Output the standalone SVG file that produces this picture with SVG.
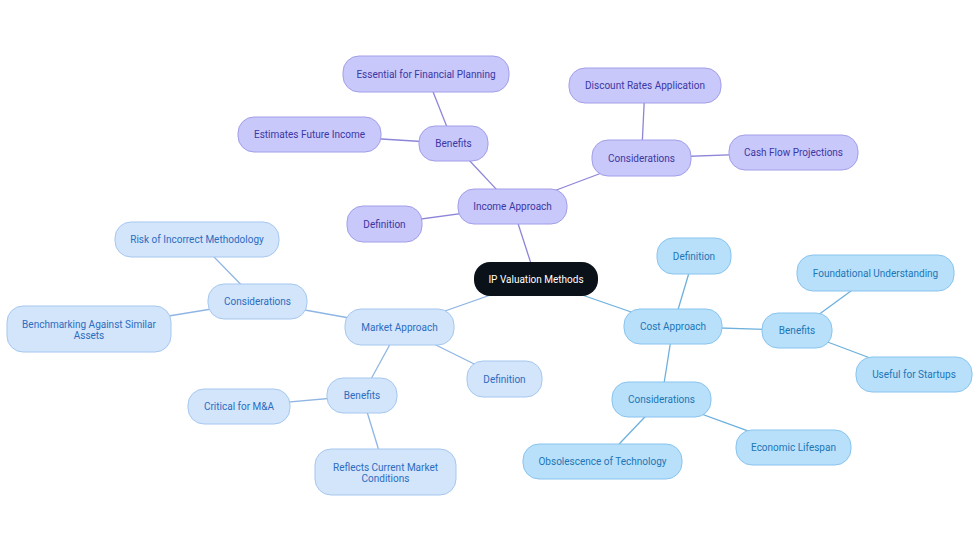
<svg xmlns="http://www.w3.org/2000/svg" width="980" height="553" viewBox="0 0 980 553">
<style>
text{font-family:Roboto,"Liberation Sans",sans-serif;font-size:10px;text-anchor:middle;dominant-baseline:central}
.inc rect{fill:#c9c8fb;stroke:#a29ee8;stroke-width:1}
.inc text{fill:#3b37a3}
.mkt rect{fill:#d2e5fb;stroke:#a6c7ef;stroke-width:1}
.mkt text{fill:#2d6cbf}
.cost rect{fill:#b9e0fb;stroke:#88c4ee;stroke-width:1}
.cost text{fill:#1b76b6}
.root rect{fill:#0b1119}
.root text{fill:#ffffff}
.ci{stroke:#8c85d8;stroke-width:1.3;fill:none}
.cm{stroke:#8fb5e4;stroke-width:1.3;fill:none}
.cc{stroke:#6db0dd;stroke-width:1.3;fill:none}
</style>
<rect width="980" height="553" fill="#ffffff"/>
<g id="connectors">
<line class="ci" x1="536" y1="279" x2="512.5" y2="206.5"/>
<line class="ci" x1="512.5" y1="206.5" x2="384.5" y2="224"/>
<line class="ci" x1="512.5" y1="206.5" x2="453.5" y2="143.5"/>
<line class="ci" x1="453.5" y1="143.5" x2="309.5" y2="134.5"/>
<line class="ci" x1="453.5" y1="143.5" x2="426" y2="74"/>
<line class="ci" x1="512.5" y1="206.5" x2="641.5" y2="158"/>
<line class="ci" x1="641.5" y1="158" x2="645" y2="85.5"/>
<line class="ci" x1="641.5" y1="158" x2="793.5" y2="152.5"/>
<line class="cm" x1="536" y1="279" x2="399.5" y2="327"/>
<line class="cm" x1="399.5" y1="327" x2="504.5" y2="379"/>
<line class="cm" x1="399.5" y1="327" x2="257.5" y2="301.5"/>
<line class="cm" x1="257.5" y1="301.5" x2="197" y2="239.5"/>
<line class="cm" x1="257.5" y1="301.5" x2="89" y2="329"/>
<line class="cm" x1="399.5" y1="327" x2="362" y2="395.5"/>
<line class="cm" x1="362" y1="395.5" x2="239" y2="406.5"/>
<line class="cm" x1="362" y1="395.5" x2="385.5" y2="472"/>
<line class="cc" x1="536" y1="279" x2="673" y2="326.5"/>
<line class="cc" x1="673" y1="326.5" x2="694" y2="256"/>
<line class="cc" x1="673" y1="326.5" x2="797" y2="330.5"/>
<line class="cc" x1="797" y1="330.5" x2="875.5" y2="273"/>
<line class="cc" x1="797" y1="330.5" x2="914" y2="374.5"/>
<line class="cc" x1="673" y1="326.5" x2="661.5" y2="399.5"/>
<line class="cc" x1="661.5" y1="399.5" x2="793.5" y2="447.5"/>
<line class="cc" x1="661.5" y1="399.5" x2="602.5" y2="461.5"/>
</g>
<g id="root" class="root"><rect x="474" y="262" width="124" height="34" rx="16"/><text x="536" y="279">IP Valuation Methods</text></g>
<g id="income" class="inc"><rect x="458" y="189" width="109" height="35" rx="16"/><text x="512.5" y="206.5">Income Approach</text></g>
<g id="income-definition" class="inc"><rect x="347" y="206" width="75" height="36" rx="16"/><text x="384.5" y="224">Definition</text></g>
<g id="income-benefits" class="inc"><rect x="419" y="126" width="69" height="35" rx="16"/><text x="453.5" y="143.5">Benefits</text></g>
<g id="income-estimates" class="inc"><rect x="238" y="117" width="143" height="35" rx="16"/><text x="309.5" y="134.5">Estimates Future Income</text></g>
<g id="income-essential" class="inc"><rect x="343" y="56" width="166" height="36" rx="16"/><text x="426" y="74">Essential for Financial Planning</text></g>
<g id="income-considerations" class="inc"><rect x="592" y="140" width="99" height="36" rx="16"/><text x="641.5" y="158">Considerations</text></g>
<g id="income-discount" class="inc"><rect x="569" y="68" width="152" height="35" rx="16"/><text x="645" y="85.5">Discount Rates Application</text></g>
<g id="income-cashflow" class="inc"><rect x="729" y="135" width="129" height="35" rx="16"/><text x="793.5" y="152.5">Cash Flow Projections</text></g>
<g id="market" class="mkt"><rect x="345" y="309" width="109" height="36" rx="16"/><text x="399.5" y="327">Market Approach</text></g>
<g id="market-definition" class="mkt"><rect x="467" y="361" width="75" height="36" rx="16"/><text x="504.5" y="379">Definition</text></g>
<g id="market-considerations" class="mkt"><rect x="208" y="284" width="99" height="35" rx="16"/><text x="257.5" y="301.5">Considerations</text></g>
<g id="market-risk" class="mkt"><rect x="115" y="222" width="164" height="35" rx="16"/><text x="197" y="239.5">Risk of Incorrect Methodology</text></g>
<g id="market-benchmarking" class="mkt"><rect x="7" y="306" width="164" height="46" rx="16"/><text x="89" y="324">Benchmarking Against Similar</text><text x="89" y="335">Assets</text></g>
<g id="market-benefits" class="mkt"><rect x="327" y="378" width="70" height="35" rx="16"/><text x="362" y="395.5">Benefits</text></g>
<g id="market-critical" class="mkt"><rect x="188" y="389" width="102" height="35" rx="16"/><text x="239" y="406.5">Critical for M&amp;A</text></g>
<g id="market-reflects" class="mkt"><rect x="315" y="449" width="141" height="46" rx="16"/><text x="385.5" y="467">Reflects Current Market</text><text x="385.5" y="478">Conditions</text></g>
<g id="cost" class="cost"><rect x="624" y="309" width="98" height="35" rx="16"/><text x="673" y="326.5">Cost Approach</text></g>
<g id="cost-definition" class="cost"><rect x="657" y="238" width="74" height="36" rx="16"/><text x="694" y="256">Definition</text></g>
<g id="cost-benefits" class="cost"><rect x="762" y="313" width="70" height="35" rx="16"/><text x="797" y="330.5">Benefits</text></g>
<g id="cost-foundational" class="cost"><rect x="797" y="255" width="157" height="36" rx="16"/><text x="875.5" y="273">Foundational Understanding</text></g>
<g id="cost-startups" class="cost"><rect x="856" y="357" width="116" height="35" rx="16"/><text x="914" y="374.5">Useful for Startups</text></g>
<g id="cost-considerations" class="cost"><rect x="612" y="382" width="99" height="35" rx="16"/><text x="661.5" y="399.5">Considerations</text></g>
<g id="cost-lifespan" class="cost"><rect x="736" y="430" width="115" height="35" rx="16"/><text x="793.5" y="447.5">Economic Lifespan</text></g>
<g id="cost-obsolescence" class="cost"><rect x="523" y="444" width="159" height="35" rx="16"/><text x="602.5" y="461.5">Obsolescence of Technology</text></g>
</svg>
